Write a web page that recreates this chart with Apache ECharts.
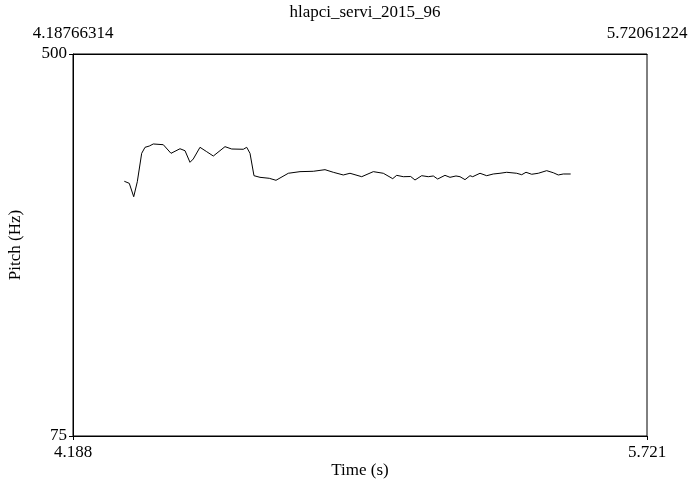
<!DOCTYPE html>
<html>
<head>
<meta charset="utf-8">
<script src="https://cdn.jsdelivr.net/npm/echarts@6/dist/echarts.min.js"></script>
<style>html,body{margin:0;padding:0;background:#fff}#c{width:690px;height:481px}</style>
</head>
<body>
<div id="c"></div>
<script>
const chartTitle = "hlapci_servi_2015_96";
const tMin = 4.18766314, tMax = 5.72061224;
const fMin = 75, fMax = 500;
const topLabels = ["4.18766314", "5.72061224"];
const bottomLabels = ["4.188", "5.721"];
const yLabels = ["75", "500"];
const times = [4.3247,4.3380,4.3498,4.3594,4.3711,4.3800,4.3914,4.4021,4.4288,4.4494,4.4734,4.4868,4.5001,4.5089,4.5268,4.5447,4.5624,4.5936,4.6115,4.6425,4.6516,4.6604,4.6710,4.6871,4.7119,4.7298,4.7627,4.7939,4.8294,4.8607,4.8828,4.9095,4.9274,4.9587,4.9897,5.0164,5.0415,5.0521,5.0698,5.0895,5.1010,5.1189,5.1365,5.1499,5.1616,5.1811,5.1945,5.2105,5.2212,5.2346,5.2479,5.2551,5.2746,5.2925,5.3101,5.3280,5.3459,5.3726,5.3860,5.3975,5.4127,5.4303,5.4527,5.4704,5.4837,5.4971,5.5168];
const pitch = [358.4,356.1,341.2,357.9,389.5,396.2,397.6,399.9,399.1,389.5,394.6,392.4,379.5,383.2,396.2,391.3,386.5,396.9,394.3,394.0,396.2,389.5,364.6,362.8,361.7,359.5,367.3,369.1,369.5,371.3,368.4,365.4,367.3,363.5,369.1,367.3,361.3,365.0,363.5,363.7,359.8,364.6,363.5,364.3,360.9,365.0,362.8,364.3,363.5,360.2,364.6,363.5,367.3,364.6,366.5,367.3,368.4,367.3,365.7,368.4,366.2,367.3,370.2,367.9,365.4,366.5,366.5];

const font = "'Liberation Serif', 'Times New Roman', serif";
const fs = 17;
const data = times.map((t, i) => [t, pitch[i]]);
const chart = echarts.init(document.getElementById('c'), null, {renderer: 'canvas'});
chart.setOption({
  animation: false,
  backgroundColor: '#fff',
  title: {
    text: chartTitle, left: 360, top: -1, textAlign: 'center',
    textStyle: {fontFamily: font, fontSize: fs, fontWeight: 'normal', color: '#000'}
  },
  grid: {left: 73, right: 43, top: 54, bottom: 45, containLabel: false, outerBoundsMode: 'none',
    show: true, borderColor: '#000', borderWidth: 1, backgroundColor: 'transparent'},
  xAxis: [{
    type: 'value', min: tMin, max: tMax, position: 'bottom',
    name: 'Time (s)', nameLocation: 'middle', nameGap: 26, nameMoveOverlap: false,
    nameTextStyle: {fontFamily: font, fontSize: fs, color: '#000'},
    axisLine: {show: true, lineStyle: {color: '#000', width: 1}},
    axisTick: {show: true, length: 4, lineStyle: {color: '#000'}, customValues: [tMin, tMax]},
    axisLabel: {fontFamily: font, fontSize: fs, color: '#000', margin: 8, customValues: [tMin, tMax],
      formatter: v => (Math.abs(v - tMin) < 1e-6 ? bottomLabels[0] : bottomLabels[1])},
    splitLine: {show: false}
  }, {
    type: 'value', min: tMin, max: tMax, position: 'top',
    axisLine: {show: true, lineStyle: {color: '#000', width: 1}},
    axisTick: {show: false},
    axisLabel: {fontFamily: font, fontSize: fs, color: '#000', margin: 12, customValues: [tMin, tMax],
      formatter: v => (Math.abs(v - tMin) < 1e-6 ? topLabels[0] : topLabels[1])},
    splitLine: {show: false}
  }],
  yAxis: {
    type: 'value', min: fMin, max: fMax,
    name: 'Pitch (Hz)', nameLocation: 'middle', nameGap: 49, nameRotate: 90,
    nameTextStyle: {fontFamily: font, fontSize: fs, color: '#000'},
    axisLine: {show: true, lineStyle: {color: '#000', width: 1}},
    axisTick: {show: true, length: 4, lineStyle: {color: '#000'}, customValues: [fMin, fMax]},
    axisLabel: {fontFamily: font, fontSize: fs, color: '#000', margin: 6, customValues: [fMin, fMax],
      formatter: v => (v === fMin ? yLabels[0] : yLabels[1])},
    splitLine: {show: false}
  },
  series: [{
    type: 'line', data: data, xAxisIndex: 0, showSymbol: false, symbol: 'none',
    lineStyle: {color: '#000', width: 1}, silent: true
  }]
});
</script>
</body>
</html>
